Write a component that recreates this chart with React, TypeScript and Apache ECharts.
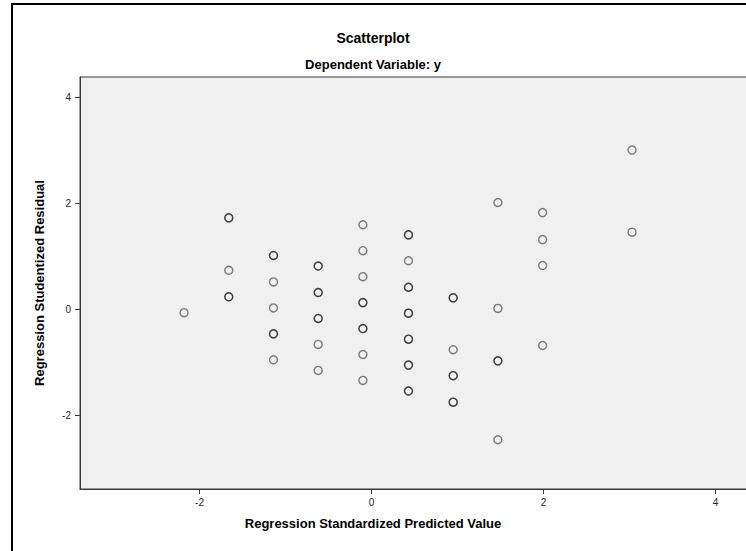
import React, { useEffect, useRef } from "react";
import * as echarts from "echarts";

// Regression diagnostics: standardized predicted value vs. studentized residual.
// Repeated pairs are cases that share the same coordinates.
const predicted: number[] = [
  -2.18,
  -1.66, -1.66, -1.66, -1.66, -1.66,
  -1.14, -1.14, -1.14, -1.14, -1.14, -1.14, -1.14,
  -0.62, -0.62, -0.62, -0.62, -0.62, -0.62, -0.62, -0.62,
  -0.10, -0.10, -0.10, -0.10, -0.10, -0.10, -0.10, -0.10, -0.10,
  0.43, 0.43, 0.43, 0.43, 0.43, 0.43, 0.43, 0.43, 0.43, 0.43, 0.43, 0.43, 0.43,
  0.95, 0.95, 0.95, 0.95, 0.95, 0.95, 0.95,
  1.47, 1.47, 1.47, 1.47, 1.47,
  1.99, 1.99, 1.99, 1.99,
  3.03, 3.03,
];

const residual: number[] = [
  -0.06,
  1.73, 1.73, 0.74, 0.24, 0.24,
  1.02, 1.02, 0.52, 0.03, -0.46, -0.46, -0.95,
  0.82, 0.82, 0.32, 0.32, -0.17, -0.17, -0.66, -1.15,
  1.60, 1.11, 0.62, 0.13, 0.13, -0.36, -0.36, -0.85, -1.34,
  1.41, 1.41, 0.92, 0.42, 0.42, -0.07, -0.07, -0.56, -0.56, -1.05, -1.05, -1.54, -1.54,
  0.22, 0.22, -0.76, -1.25, -1.25, -1.75, -1.75,
  2.02, 0.02, -0.97, -0.97, -2.46,
  1.83, 1.32, 0.83, -0.68,
  3.01, 1.46,
];

const tickValues: number[] = [-2, 0, 2, 4];

const chartTitle = "Scatterplot";
const chartSubtitle = "Dependent Variable: y";
const xTitle = "Regression Standardized Predicted Value";
const yTitle = "Regression Studentized Residual";

const FONT = "'Liberation Sans', Arial, sans-serif";

export default function App() {
  const ref = useRef<HTMLDivElement>(null);

  useEffect(() => {
    if (!ref.current) return;
    const chart = echarts.init(ref.current, null, { renderer: "svg" });

    const points = predicted.map((x, i) => [x, residual[i]]);
    const titleStyle = { fontSize: 13, fontWeight: "bold" as const, color: "#000", fontFamily: FONT };
    const axisColor = "#3a3a3a";

    chart.setOption({
      animation: false,
      backgroundColor: "#fff",
      title: [
        { text: chartTitle, left: "center", top: 31, padding: 0, textStyle: { ...titleStyle, fontSize: 14 } },
        { text: chartSubtitle, left: "center", top: 58, padding: 0, textStyle: titleStyle },
        { text: xTitle, left: "center", top: 517, padding: 0, textStyle: titleStyle },
      ],
      graphic: [
        {
          type: "rect",
          silent: true,
          shape: { x: 12, y: 4, width: 1000, height: 1000 },
          style: { fill: "none", stroke: "#000", lineWidth: 2 },
          z: 100,
        },
      ],
      grid: {
        left: 80,
        top: 77,
        width: 669,
        height: 412,
        show: true,
        backgroundColor: "#f0f0f0",
        borderColor: axisColor,
        borderWidth: 1,
        containLabel: false,
        outerBoundsMode: "none",
      },
      xAxis: {
        type: "value",
        min: -3.39,
        max: 4.39,
        axisLine: { show: true, onZero: false, lineStyle: { color: axisColor, width: 1 } },
        axisTick: { show: true, length: 5, customValues: tickValues, lineStyle: { color: axisColor } },
        axisLabel: {
          customValues: tickValues,
          fontSize: 10,
          color: "#222",
          fontFamily: FONT,
          margin: 8,
        },
        splitLine: { show: false },
      },
      yAxis: {
        type: "value",
        min: -3.39,
        max: 4.39,
        name: yTitle,
        nameLocation: "middle",
        nameGap: 34,
        nameTextStyle: titleStyle,
        axisLine: { show: true, onZero: false, lineStyle: { color: axisColor, width: 1 } },
        axisTick: { show: true, length: 5, customValues: tickValues, lineStyle: { color: axisColor } },
        axisLabel: {
          customValues: tickValues,
          fontSize: 10,
          color: "#222",
          fontFamily: FONT,
          margin: 9,
        },
        splitLine: { show: false },
      },
      series: [
        {
          type: "scatter",
          data: points,
          symbol: "circle",
          symbolSize: 8,
          itemStyle: {
            color: "rgba(0,0,0,0)",
            borderColor: "rgba(0,0,0,0.62)",
            borderWidth: 1.4,
          },
          emphasis: { disabled: true },
        },
      ],
    });

    return () => chart.dispose();
  }, []);

  return (
    <div
      ref={ref}
      style={{ position: "absolute", left: 0, top: 0, width: 746, height: 551 }}
    />
  );
}
